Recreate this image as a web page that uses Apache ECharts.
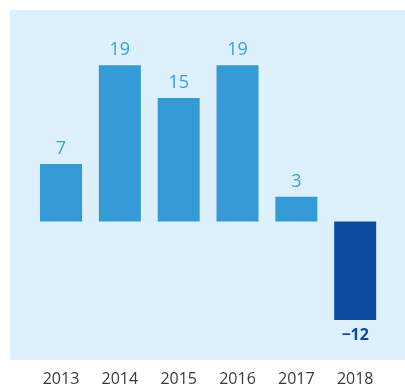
<!DOCTYPE html>
<html>
<head>
<meta charset="utf-8">
<script src="https://cdn.jsdelivr.net/npm/echarts@6/dist/echarts.min.js"></script>
<style>
  html, body { margin: 0; padding: 0; background: #ffffff; }
  #chart { width: 405px; height: 387px; }
</style>
</head>
<body>
<div id="chart"></div>
<script>
// Annual change by year
const years = ['2013', '2014', '2015', '2016', '2017', '2018'];
const values = [7, 19, 15, 19, 3, -12];

const posColor = '#359bd7';
const negColor = '#0b4ca1';

const chart = echarts.init(document.getElementById('chart'));

const barData = values.map(function (v) {
  const neg = v < 0;
  return {
    value: v,
    itemStyle: { color: neg ? negColor : posColor },
    label: neg ? {
      position: 'bottom',
      distance: 7,
      color: negColor,
      fontWeight: 'bold',
      fontSize: 16,
      fontFamily: 'Open Sans',
      formatter: function (p) { return '\u2212' + Math.abs(p.value); }
    } : {}
  };
});

chart.setOption({
  animation: false,
  backgroundColor: '#ffffff',
  graphic: [{
    type: 'rect',
    z: -10,
    silent: true,
    shape: { x: 10, y: 10, width: 400, height: 350, r: 2 },
    style: { fill: '#dcf1fc' }
  }],
  grid: { left: 31.6, right: 20.4, top: 57, height: 296 },
  xAxis: {
    type: 'category',
    data: years,
    axisLine: { show: false },
    axisTick: { show: false },
    axisLabel: {
      margin: 18,
      color: '#3a3a3a',
      fontSize: 16,
      fontFamily: 'Open Sans'
    }
  },
  yAxis: {
    type: 'value',
    min: -16,
    max: 20,
    show: false,
    splitLine: { show: false }
  },
  series: [{
    type: 'bar',
    data: barData,
    barWidth: 42,
    label: {
      show: true,
      position: 'top',
      distance: 6,
      color: '#3b9fdd',
      fontSize: 18,
      fontFamily: 'Open Sans'
    }
  }]
});
</script>
</body>
</html>
